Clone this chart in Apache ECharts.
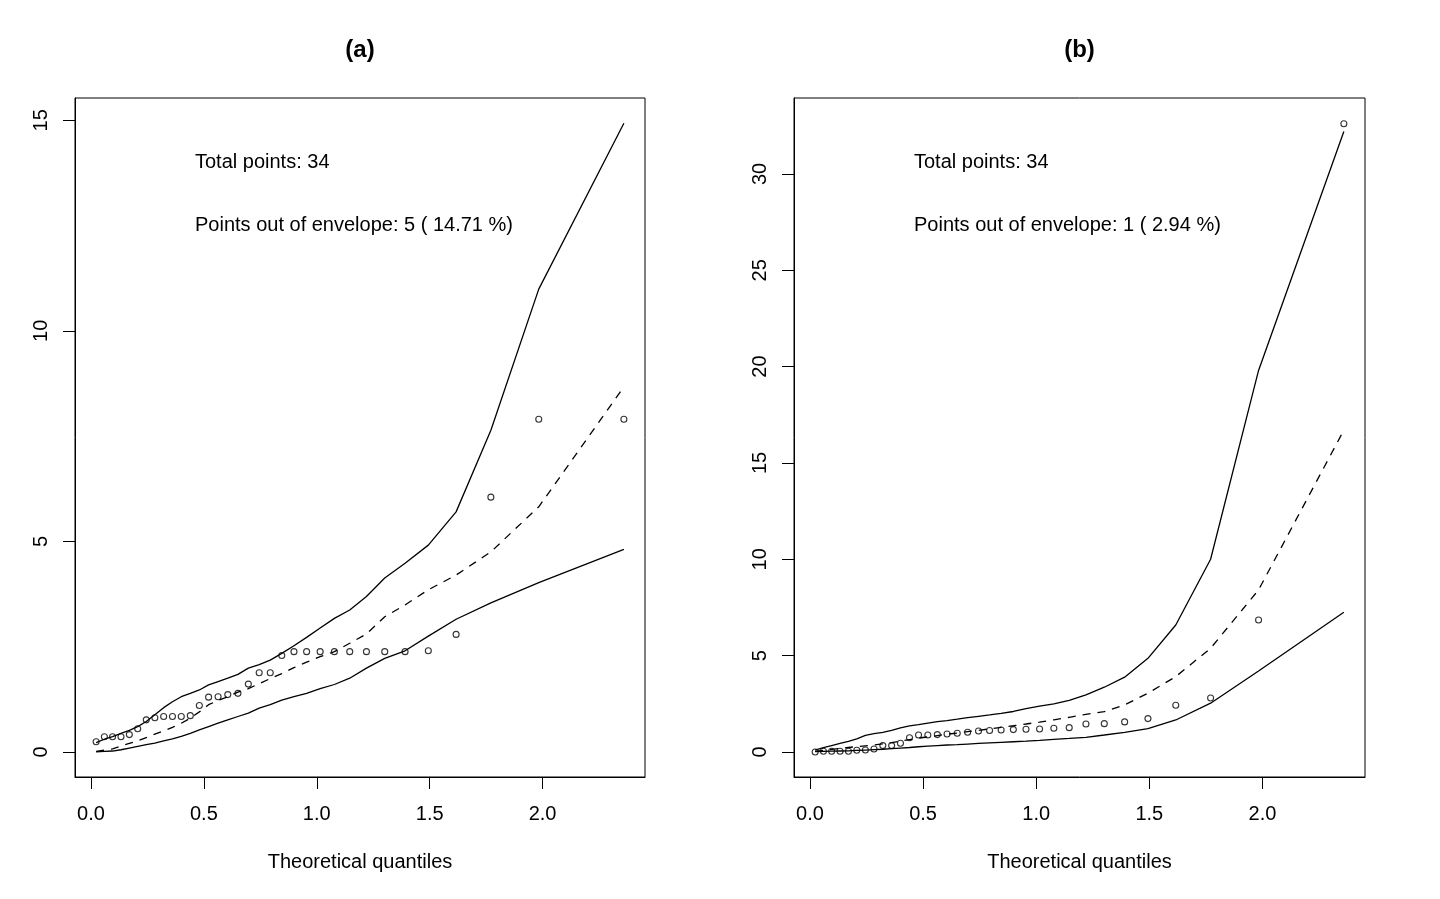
<!DOCTYPE html>
<html lang="en">
<head>
    <meta charset="UTF-8">
    <title>Half-normal plots with simulated envelope</title>
    <style>
        html, body { margin: 0; padding: 0; background: #fff; }
        #main { width: 1440px; height: 899px; }
    </style>
</head>
<body>
<div id="main"></div>
<script src="https://cdn.jsdelivr.net/npm/echarts@6/dist/echarts.min.js"></script>
<script>
    // theoretical half-normal quantiles (same for both panels)
    var quantiles = [0.0229, 0.0595, 0.0958, 0.1330, 0.1700, 0.2070, 0.2450, 0.2830, 0.3220, 0.3610,
        0.4000, 0.4400, 0.4800, 0.5210, 0.5630, 0.6060, 0.6510, 0.6970, 0.7450, 0.7940,
        0.8450, 0.8990, 0.9550, 1.0150, 1.0780, 1.1460, 1.2200, 1.3010, 1.3910, 1.4940,
        1.6170, 1.7710, 1.9830, 2.3600];

    // panel (a)
    var pointsA = [0.24, 0.36, 0.36, 0.36, 0.41, 0.55, 0.76, 0.81, 0.84, 0.84, 0.84, 0.86, 1.10, 1.30,
        1.31, 1.36, 1.39, 1.61, 1.88, 1.88, 2.29, 2.38, 2.38, 2.38, 2.38, 2.38, 2.38, 2.38,
        2.38, 2.40, 2.79, 6.05, 7.90, 7.90];
    var upperA = [0.22, 0.30, 0.36, 0.44, 0.51, 0.60, 0.72, 0.88, 1.05, 1.19, 1.31, 1.39, 1.47, 1.59,
        1.67, 1.75, 1.84, 1.99, 2.07, 2.18, 2.34, 2.52, 2.72, 2.94, 3.17, 3.37, 3.69, 4.13,
        4.48, 4.91, 5.70, 7.64, 10.99, 14.93];
    var medianA = [0.01, 0.04, 0.07, 0.14, 0.20, 0.26, 0.34, 0.42, 0.50, 0.58, 0.68, 0.80, 0.95, 1.12,
        1.22, 1.31, 1.42, 1.50, 1.62, 1.74, 1.86, 2.00, 2.13, 2.26, 2.38, 2.58, 2.80, 3.21,
        3.49, 3.85, 4.20, 4.75, 5.82, 8.67];
    var lowerA = [0.00, 0.01, 0.02, 0.05, 0.09, 0.13, 0.17, 0.21, 0.26, 0.31, 0.37, 0.44, 0.52, 0.60,
        0.68, 0.76, 0.84, 0.92, 1.04, 1.12, 1.23, 1.31, 1.39, 1.50, 1.60, 1.75, 1.99, 2.22,
        2.40, 2.75, 3.15, 3.54, 4.02, 4.81];

    // panel (b)
    var pointsB = [0.00, 0.04, 0.04, 0.04, 0.04, 0.09, 0.10, 0.15, 0.33, 0.33, 0.45, 0.74, 0.88, 0.88,
        0.90, 0.93, 0.97, 1.02, 1.09, 1.11, 1.14, 1.16, 1.18, 1.19, 1.23, 1.26, 1.45, 1.47,
        1.56, 1.73, 2.42, 2.80, 6.85, 32.60];
    var upperB = [0.10, 0.22, 0.33, 0.44, 0.55, 0.68, 0.86, 0.95, 1.02, 1.12, 1.25, 1.35, 1.42, 1.50,
        1.57, 1.63, 1.70, 1.78, 1.85, 1.92, 2.00, 2.10, 2.25, 2.38, 2.50, 2.68, 2.96, 3.36,
        3.88, 4.86, 6.59, 10.00, 19.80, 32.20];
    var medianB = [0.03, 0.08, 0.13, 0.18, 0.23, 0.28, 0.32, 0.36, 0.42, 0.48, 0.56, 0.64, 0.72, 0.78,
        0.85, 0.92, 0.98, 1.05, 1.12, 1.20, 1.28, 1.36, 1.45, 1.55, 1.67, 1.80, 1.95, 2.09,
        2.44, 3.05, 3.91, 5.38, 8.41, 16.70];
    var lowerB = [0.02, 0.03, 0.04, 0.05, 0.06, 0.08, 0.10, 0.12, 0.14, 0.17, 0.20, 0.23, 0.27, 0.30,
        0.33, 0.36, 0.38, 0.41, 0.44, 0.47, 0.50, 0.53, 0.56, 0.60, 0.65, 0.70, 0.76, 0.88,
        1.02, 1.21, 1.66, 2.53, 4.20, 7.25];

    // ticks and texts
    var xTicks = [0, 0.5, 1, 1.5, 2];
    var yTicksA = [0, 5, 10, 15];
    var yTicksB = [0, 5, 10, 15, 20, 25, 30];
    var panelTitles = ['(a)', '(b)'];
    var totalTexts = ['Total points: 34', 'Total points: 34'];
    var outTexts = ['Points out of envelope: 5 ( 14.71 %)', 'Points out of envelope: 1 ( 2.94 %)'];
    var xName = 'Theoretical quantiles';

    var FONT = '"Liberation Sans", Arial, Helvetica, sans-serif';

    function pairs(ys) {
        return quantiles.map(function (q, i) { return [q, ys[i]]; });
    }

    var panels = [
        { left: 75, width: 570, ymin: -0.597, ymax: 15.53, yTicks: yTicksA,
          pts: pointsA, up: upperA, med: medianA, low: lowerA },
        { left: 794, width: 571, ymin: -1.30, ymax: 33.94, yTicks: yTicksB,
          pts: pointsB, up: upperB, med: medianB, low: lowerB }
    ];

    var grids = [], xAxes = [], yAxes = [], series = [], graphics = [];

    panels.forEach(function (p, k) {
        grids.push({
            left: p.left, top: 98, width: p.width, height: 679,
            show: true, borderColor: '#000', borderWidth: 1, backgroundColor: 'transparent'
        });
        xAxes.push({
            type: 'value', gridIndex: k, min: -0.0706, max: 2.4535,
            axisLine: { show: true, onZero: false, lineStyle: { color: '#000', width: 1 } },
            axisTick: { show: true, length: 12, customValues: xTicks, lineStyle: { color: '#000', width: 1 } },
            axisLabel: {
                customValues: xTicks, color: '#000', fontSize: 20, fontFamily: FONT, margin: 27,
                formatter: function (v) { return v.toFixed(1); }
            },
            splitLine: { show: false },
            name: xName, nameLocation: 'middle', nameGap: 75,
            nameTextStyle: { color: '#000', fontSize: 20, fontFamily: FONT }
        });
        yAxes.push({
            type: 'value', gridIndex: k, min: p.ymin, max: p.ymax,
            axisLine: { show: true, onZero: false, lineStyle: { color: '#000', width: 1 } },
            axisTick: { show: true, length: 12, customValues: p.yTicks, lineStyle: { color: '#000', width: 1 } },
            axisLabel: {
                customValues: p.yTicks, color: '#000', fontSize: 20, fontFamily: FONT,
                rotate: 90, margin: 24
            },
            splitLine: { show: false }
        });

        var lineBase = {
            type: 'line', xAxisIndex: k, yAxisIndex: k, showSymbol: false, symbol: 'none',
            silent: true, animation: false
        };
        series.push(Object.assign({}, lineBase, {
            name: 'upper', data: pairs(p.up), lineStyle: { color: '#000', width: 1.3, type: 'solid' }
        }));
        series.push(Object.assign({}, lineBase, {
            name: 'lower', data: pairs(p.low), lineStyle: { color: '#000', width: 1.3, type: 'solid' }
        }));
        series.push(Object.assign({}, lineBase, {
            name: 'median', data: pairs(p.med), lineStyle: { color: '#000', width: 1.3, type: [8, 7] }
        }));
        series.push({
            type: 'scatter', xAxisIndex: k, yAxisIndex: k, name: 'observed',
            data: pairs(p.pts), symbol: 'circle', symbolSize: 6,
            itemStyle: { color: 'rgba(0,0,0,0)', borderColor: '#000', borderWidth: 1.1 },
            silent: true, animation: false, z: 5
        });

        var cx = p.left + p.width / 2;
        graphics.push({
            type: 'text', x: cx, y: 50,
            style: { text: panelTitles[k], font: 'bold 24px ' + FONT, fill: '#000', align: 'center', verticalAlign: 'middle' }
        });
        graphics.push({
            type: 'text', x: p.left + 120, y: 162,
            style: { text: totalTexts[k], font: '20px ' + FONT, fill: '#000', align: 'left', verticalAlign: 'middle' }
        });
        graphics.push({
            type: 'text', x: p.left + 120, y: 225,
            style: { text: outTexts[k], font: '20px ' + FONT, fill: '#000', align: 'left', verticalAlign: 'middle' }
        });
    });

    var myChart = echarts.init(document.getElementById('main'), null, { renderer: 'canvas' });
    myChart.setOption({
        backgroundColor: '#fff',
        animation: false,
        textStyle: { fontFamily: FONT },
        grid: grids,
        xAxis: xAxes,
        yAxis: yAxes,
        series: series,
        graphic: graphics
    });
</script>
</body>
</html>
